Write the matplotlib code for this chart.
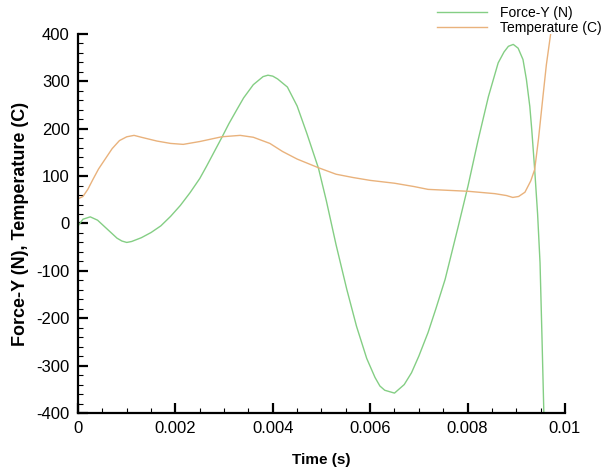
import matplotlib
matplotlib.use("Agg")
import matplotlib.pyplot as plt
from matplotlib.ticker import MultipleLocator, FixedLocator

plt.rcParams["font.family"] = ["Liberation Sans", "DejaVu Sans"]
plt.rcParams["axes.unicode_minus"] = False

# Force-Y (N)
force_t = [0.0, 0.0001, 0.00025, 0.0004, 0.0006, 0.0008, 0.0009, 0.001, 0.0011, 0.0013,
           0.0015, 0.0017, 0.0019, 0.0021, 0.0023, 0.0025, 0.00264, 0.0028, 0.00295, 0.0031,
           0.00326, 0.0034, 0.0036, 0.0038, 0.0039, 0.004, 0.0041, 0.0043, 0.0045, 0.0047,
           0.00494, 0.0051, 0.0053, 0.00552, 0.00572, 0.00593, 0.0061, 0.0062, 0.0063, 0.0065,
           0.0067, 0.00685, 0.007, 0.00719, 0.00735, 0.00754, 0.00768, 0.00781, 0.00801, 0.00822,
           0.00843, 0.00863, 0.00875, 0.00884, 0.00894, 0.00904, 0.00914, 0.00921, 0.00928, 0.00932,
           0.00938, 0.00944, 0.00949, 0.00953, 0.00957]
force_y = [-5, 9, 14, 7, -12, -31, -37, -40, -38, -30,
           -19, -5, 15, 38, 65, 95, 121, 152, 181, 211,
           240, 265, 293, 310, 313, 311, 305, 288, 248, 190,
           116, 48, -45, -139, -217, -285, -325, -343, -352, -358,
           -340, -315, -280, -230, -180, -118, -60, -6, 79, 177,
           268, 339, 362, 374, 378, 370, 346, 304, 247, 198,
           114, 20, -83, -240, -407]

# Temperature (C)
temp_t = [0.0, 0.0001, 0.0002, 0.0003, 0.00042, 0.00055, 0.0007, 0.00085, 0.001, 0.00115,
          0.0013, 0.00162, 0.0019, 0.00216, 0.0025, 0.00295, 0.00333, 0.0036, 0.00394, 0.0042,
          0.0045, 0.00493, 0.0053, 0.00565, 0.006, 0.0065, 0.0069, 0.00719, 0.0076, 0.00801,
          0.00856, 0.0088, 0.00893, 0.00905, 0.00918, 0.0093, 0.00938, 0.00946, 0.00955, 0.00962,
          0.00972]
temp_y = [52, 57, 72, 92, 115, 135, 158, 175, 183, 186,
          182, 174, 169, 167, 173, 183, 186, 182, 169, 152,
          136, 118, 104, 97, 91, 85, 78, 72, 70, 68,
          63, 59, 55, 57, 66, 90, 114, 180, 268, 335,
          409]

x_ticks = [0, 0.002, 0.004, 0.006, 0.008, 0.01]
x_labels = ["0", "0.002", "0.004", "0.006", "0.008", "0.01"]
y_ticks = [-400, -300, -200, -100, 0, 100, 200, 300, 400]

fig = plt.figure(figsize=(6.1, 4.72), dpi=100)
ax = fig.add_axes([0.128, 0.125, 0.798, 0.803])

ax.plot(force_t, force_y, color="#84ce84", lw=1.0, label="Force-Y (N)")
ax.plot(temp_t, temp_y, color="#e9b27c", lw=1.0, label="Temperature (C)")

ax.set_xlim(0, 0.01)
ax.set_ylim(-400, 400)
ax.xaxis.set_major_locator(FixedLocator(x_ticks))
ax.set_xticklabels(x_labels)
ax.yaxis.set_major_locator(FixedLocator(y_ticks))
ax.xaxis.set_minor_locator(MultipleLocator(0.0005))
ax.yaxis.set_minor_locator(MultipleLocator(20))

for side in ["top", "right"]:
    ax.spines[side].set_visible(False)
for side in ["left", "bottom"]:
    ax.spines[side].set_linewidth(1.6)

ax.tick_params(which="major", direction="in", length=7, width=1.6, labelsize=12, pad=6)
ax.tick_params(which="minor", direction="in", length=3.5, width=0.8)

ax.set_xlabel("Time (s)", fontsize=11, fontweight="bold", labelpad=12)
ax.set_ylabel("Force-Y (N), Temperature (C)", fontsize=13, fontweight="bold", labelpad=5)

ax.legend(loc="upper right", bbox_to_anchor=(0.995, 1.0), bbox_transform=fig.transFigure,
          frameon=False, fontsize=10, handlelength=3.6, handletextpad=0.9,
          labelspacing=0.1, borderaxespad=0.0)

fig.savefig("out.png", dpi=100)
